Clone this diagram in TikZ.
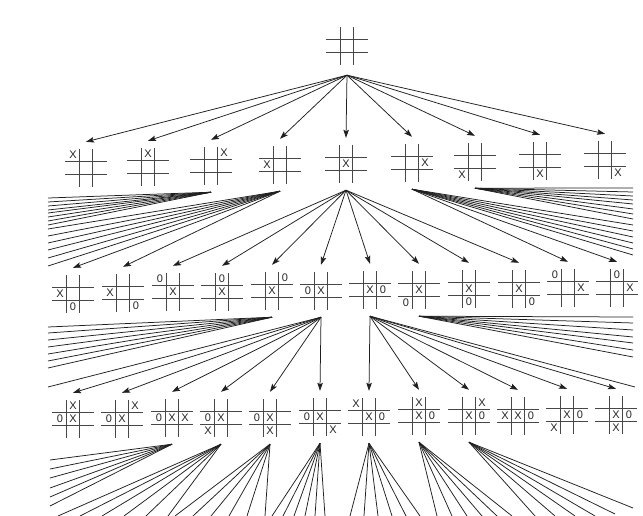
\documentclass[tikz,border=0pt]{standalone}
\usepackage{fontspec}
\setmainfont{Liberation Sans}
\usetikzlibrary{arrows.meta,calc}

\tikzset{
  gridln/.style={line width=1.1pt, draw=black!72},
  conn/.style={line width=0.75pt, draw=black!88},
  arr/.style={conn, -{Stealth[length=8pt,width=5.5pt,inset=1.5pt]}},
  bnode/.style={inner sep=0pt, minimum width=42pt, minimum height=52pt},
  rootnode/.style={inner sep=0pt, minimum width=42pt, minimum height=58pt},
  mk/.style={inner sep=0pt, font=\fontsize{11}{11}\selectfont, text=black!85},
}

\newcommand\tttgrid[2]{%
  \draw[gridln] (#1-6.5,#2-19) -- (#1-6.5,#2+19)
                (#1+6.5,#2-19) -- (#1+6.5,#2+19)
                (#1-21,#2-6.5) -- (#1+21,#2-6.5)
                (#1-21,#2+6.5) -- (#1+21,#2+6.5);}
\newcommand\tttboard[3]{%
  \node[bnode] (#1) at (#2,#3) {};
  \tttgrid{#2}{#3}}
\newcommand\mk[4]{\node[mk] (#1-r#3c#2) at ($(#1)+(#2*13,#3*13)$) {#4};}

\begin{document}
\begin{tikzpicture}[x=1pt,y=-1pt]
\useasboundingbox[fill=white] (0,0) rectangle (643,516);

% root
\node[rootnode] (r) at (347,46) {};
\tttgrid{347}{46}

% level 1
\foreach \x/\cy [count=\i] in {86/168,148/167,211/166,280/165,346/164,412/163,475/162,540/161,605/160}
  {\tttboard{a\i}{\x}{\cy}}
\mk{a1}{-1}{-1}{X}
\mk{a2}{0}{-1}{X}
\mk{a3}{1}{-1}{X}
\mk{a4}{-1}{0}{X}
\mk{a5}{0}{0}{X}
\mk{a6}{1}{0}{X}
\mk{a7}{-1}{1}{X}
\mk{a8}{0}{1}{X}
\mk{a9}{1}{1}{X}

% level 2
\foreach \x [count=\i] in {73,123,173,222,272,321,370,419,469,519,568,617}
  {\pgfmathsetmacro\cy{round(293.5-(\x-73)*6/544)}\tttboard{b\i}{\x}{\cy}}
\mk{b1}{-1}{0}{X}\mk{b1}{0}{1}{0}
\mk{b2}{-1}{0}{X}\mk{b2}{1}{1}{0}
\mk{b3}{-1}{-1}{0}\mk{b3}{0}{0}{X}
\mk{b4}{0}{-1}{0}\mk{b4}{0}{0}{X}
\mk{b5}{0}{0}{X}\mk{b5}{1}{-1}{0}
\mk{b6}{-1}{0}{0}\mk{b6}{0}{0}{X}
\mk{b7}{0}{0}{X}\mk{b7}{1}{0}{0}
\mk{b8}{0}{0}{X}\mk{b8}{-1}{1}{0}
\mk{b9}{0}{0}{X}\mk{b9}{0}{1}{0}
\mk{b10}{0}{0}{X}\mk{b10}{1}{1}{0}
\mk{b11}{-1}{-1}{0}\mk{b11}{1}{0}{X}
\mk{b12}{0}{-1}{0}\mk{b12}{1}{0}{X}

% level 3
\foreach \x [count=\i] in {73,122,172,221,270,320,369,419,469,518,567,616}
  {\pgfmathsetmacro\cy{round(419-(\x-73)*4/543)}\tttboard{c\i}{\x}{\cy}}
\mk{c1}{0}{-1}{X}\mk{c1}{-1}{0}{0}\mk{c1}{0}{0}{X}
\mk{c2}{1}{-1}{X}\mk{c2}{-1}{0}{0}\mk{c2}{0}{0}{X}
\mk{c3}{-1}{0}{0}\mk{c3}{0}{0}{X}\mk{c3}{1}{0}{X}
\mk{c4}{-1}{0}{0}\mk{c4}{0}{0}{X}\mk{c4}{-1}{1}{X}
\mk{c5}{-1}{0}{0}\mk{c5}{0}{0}{X}\mk{c5}{0}{1}{X}
\mk{c6}{-1}{0}{0}\mk{c6}{0}{0}{X}\mk{c6}{1}{1}{X}
\mk{c7}{-1}{-1}{X}\mk{c7}{0}{0}{X}\mk{c7}{1}{0}{0}
\mk{c8}{0}{-1}{X}\mk{c8}{0}{0}{X}\mk{c8}{1}{0}{0}
\mk{c9}{1}{-1}{X}\mk{c9}{0}{0}{X}\mk{c9}{1}{0}{0}
\mk{c10}{-1}{0}{X}\mk{c10}{0}{0}{X}\mk{c10}{1}{0}{0}
\mk{c11}{0}{0}{X}\mk{c11}{1}{0}{0}\mk{c11}{-1}{1}{X}
\mk{c12}{0}{0}{X}\mk{c12}{1}{0}{0}\mk{c12}{0}{1}{X}

% arrows
\foreach \i in {1,...,9} {\draw[arr] (r.south) -- (a\i.north);}
\foreach \i in {1,2} {\draw[arr] (a4.south) -- (b\i.north);}
\foreach \i in {3,...,10} {\draw[arr] (a5.south) -- (b\i.north);}
\foreach \i in {11,12} {\draw[arr] (a6.south) -- (b\i.north);}
\foreach \i in {1,...,6} {\draw[arr] (b6.south) -- (c\i.north);}
\foreach \i in {7,...,12} {\draw[arr] (b7.south) -- (c\i.north);}

% truncated fans, level 1
\foreach \y [count=\i] in {198,202,206,210,213,217,221,225}
  {\coordinate (La\i) at (48,\y); \draw[conn] (a3.south) -- (La\i);}
\foreach \y [count=\i] in {229,236,243,250,258,266}
  {\coordinate (Lb\i) at (48,\y); \draw[conn] (a4.south) -- (Lb\i);}
\foreach \y [count=\i] in {188,192,196,200,204,209,214,219}
  {\coordinate (Rc\i) at (633,\y); \draw[conn] (a7.south) -- (Rc\i);}
\foreach \y [count=\i] in {225,231,237,243,249,255}
  {\coordinate (Rd\i) at (633,\y); \draw[conn] (a6.south) -- (Rd\i);}

% truncated fans, level 2
\foreach \y [count=\i] in {327,333,340,347,354,361,368}
  {\coordinate (Le\i) at (48,\y); \draw[conn] (b5.south) -- (Le\i);}
\coordinate (Lf1) at (48,387); \draw[conn] (b6.south) -- (Lf1);
\coordinate (Rg1) at (635,387); \draw[conn] (b7.south) -- (Rg1);
\foreach \y [count=\i] in {317,323,330,337,343,350,357}
  {\coordinate (Rh\i) at (633,\y); \draw[conn] (b8.south) -- (Rh\i);}

% truncated fans, level 3
\foreach \y [count=\i] in {460,469,478,488,497,506}
  {\coordinate (Li\i) at (50,\y); \draw[conn] (c3.south) -- (Li\i);}
\foreach \x [count=\i] in {58,80,102,124,146,168}
  {\coordinate (Bj\i) at (\x,516); \draw[conn] (c4.south) -- (Bj\i);}
\foreach \x [count=\i] in {175,193,211,229,247,265}
  {\coordinate (Bk\i) at (\x,516); \draw[conn] (c5.south) -- (Bk\i);}
\foreach \x [count=\i] in {272,283,294,305,315,325}
  {\coordinate (Bl\i) at (\x,516); \draw[conn] (c6.south) -- (Bl\i);}
\foreach \x [count=\i] in {350,364,378,392,406,420}
  {\coordinate (Bm\i) at (\x,516); \draw[conn] (c7.south) -- (Bm\i);}
\foreach \x [count=\i] in {437,452,467,482,497,512}
  {\coordinate (Bn\i) at (\x,516); \draw[conn] (c8.south) -- (Bn\i);}
\foreach \x/\y [count=\i] in {535/516,555/516,575/516,595/516,615/514,633/508}
  {\coordinate (Bo\i) at (\x,\y); \draw[conn] (c9.south) -- (Bo\i);}
\end{tikzpicture}
\end{document}
